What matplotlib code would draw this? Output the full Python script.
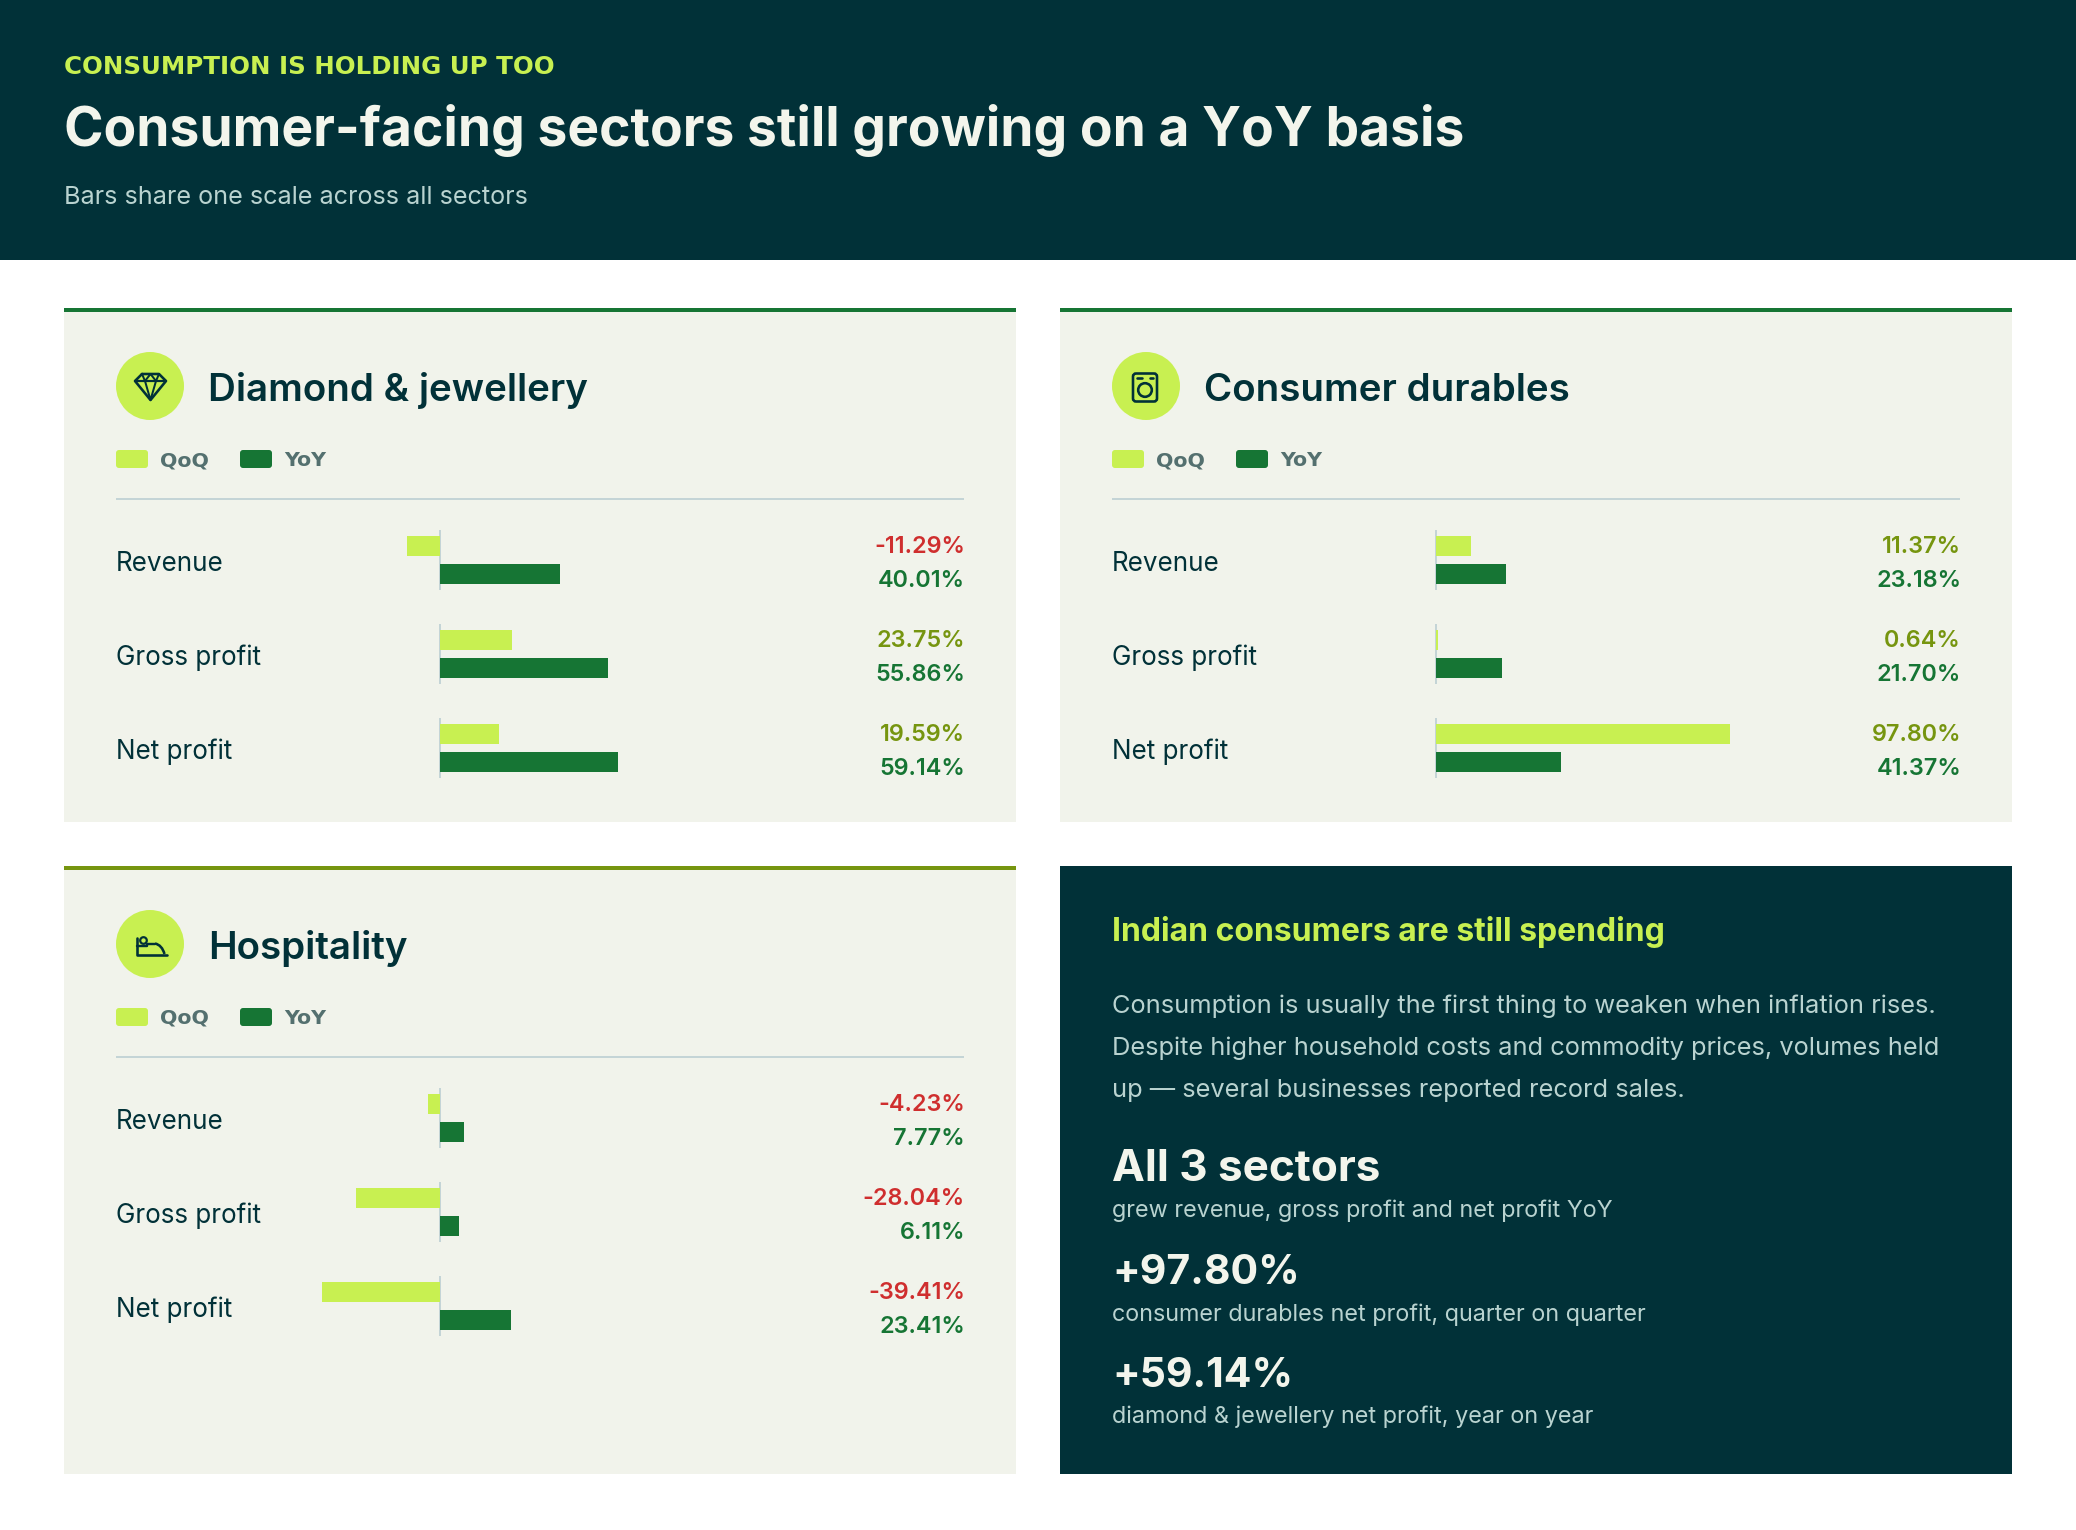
import matplotlib
matplotlib.use("Agg")
import matplotlib.pyplot as plt
from matplotlib.patches import Circle, FancyBboxPatch, Rectangle, PathPatch
from matplotlib.path import Path

W, H = 2076, 1530
plt.rcParams['font.family'] = ['Inter', 'Lato', 'DejaVu Sans']

# colours
INK = "#013138"
LIME = "#c8f051"
GREEN = "#167534"
OLIVE = "#76950f"
RED = "#cf2e2e"
CARD = "#f1f3eb"
RULE = "#c4d4d6"
PAPER = "#f3f5ec"
SOFT = "#b9d3d0"
MUTED = "#54706f"

# data
metrics = ["Revenue", "Gross profit", "Net profit"]
sectors = ["Diamond & jewellery", "Consumer durables", "Hospitality"]
diamond_qoq = [-11.29, 23.75, 19.59]
diamond_yoy = [40.01, 55.86, 59.14]
durables_qoq = [11.37, 0.64, 97.80]
durables_yoy = [23.18, 21.70, 41.37]
hospitality_qoq = [-4.23, -28.04, -39.41]
hospitality_yoy = [7.77, 6.11, 23.41]

kicker = "CONSUMPTION IS HOLDING UP TOO"
title = "Consumer-facing sectors still growing on a YoY basis"
subtitle = "Bars share one scale across all sectors"
panel_head = "Indian consumers are still spending"
panel_body = ["Consumption is usually the first thing to weaken when inflation rises.",
              "Despite higher household costs and commodity prices, volumes held",
              "up \u2014 several businesses reported record sales."]
stat_big = ["All 3 sectors", "+97.80%", "+59.14%"]
stat_small = ["grew revenue, gross profit and net profit YoY",
              "consumer durables net profit, quarter on quarter",
              "diamond & jewellery net profit, year on year"]

PX_PER_PCT = 3.0
ROW = 94.0


def fs(px):
    return px * 72 / 100


fig = plt.figure(figsize=(W / 100, H / 100), dpi=100, facecolor="white")
bg = fig.add_axes([0, 0, 1, 1])
bg.set_xlim(0, W)
bg.set_ylim(H, 0)
bg.axis('off')


def put(x, y, s, size, color, weight='normal', ha='left', **kw):
    bg.text(x, y, s, fontsize=fs(size), color=color, fontweight=weight, ha=ha, va='baseline', **kw)


def stroke(points, lw=2.6):
    xs, ys = zip(*points)
    bg.plot(xs, ys, color=INK, lw=fs(lw), solid_capstyle='round', solid_joinstyle='round', zorder=5)


def diamond_icon():
    stroke([(142, 374), (159, 374), (166, 381), (150.5, 400), (135, 381), (142, 374)])
    stroke([(135, 381), (166, 381)], 2.2)
    stroke([(142, 374), (145, 381), (150.5, 400), (156, 381), (159, 374)], 2)
    stroke([(145, 381), (150.5, 374), (156, 381)], 2)


def washer_icon():
    bg.add_patch(FancyBboxPatch((1133, 373.5), 24, 28, boxstyle="round,pad=0,rounding_size=3",
                                fc="none", ec=INK, lw=fs(2.6), zorder=5))
    stroke([(1137, 378), (1142, 378)])
    stroke([(1150, 378), (1153, 378)])
    bg.add_patch(Circle((1145, 390), 6.8, fc="none", ec=INK, lw=fs(2.6), zorder=5))


def bed_icon():
    stroke([(137, 938), (137, 955), (166.5, 955)])
    stroke([(137, 946), (147, 946), (147, 943.5), (155, 943.5)], 2.4)
    bg.add_patch(Circle((143.5, 940.5), 3.3, fc=LIME, ec=INK, lw=fs(2.2), zorder=6))
    verts = [(155, 943.5), (162, 945), (164.5, 954)]
    bg.add_patch(PathPatch(Path(verts, [Path.MOVETO, Path.CURVE3, Path.CURVE3]),
                           fc="none", ec=INK, lw=fs(2.6), zorder=5))


def draw_bars(left, top, qoq, yoy):
    # one axes per card, data units are percent, all cards on the same scale
    x0, x1 = left + 196, left + 776
    zero = left + 376.4
    y0, y1 = top + 222, top + 470
    ax = fig.add_axes([x0 / W, 1 - y1 / H, (x1 - x0) / W, (y1 - y0) / H])
    ax.patch.set_alpha(0)
    ax.axis('off')
    ax.set_xlim((x0 - zero) / PX_PER_PCT, (x1 - zero) / PX_PER_PCT)
    ax.set_ylim(2 + 30 / ROW, -30 / ROW)
    rows = range(len(metrics))
    ax.vlines([0] * 3, [r - 30 / ROW for r in rows], [r + 30 / ROW for r in rows],
              color=RULE, lw=fs(2), zorder=1)
    ax.barh([r - 14 / ROW for r in rows], qoq, height=20 / ROW, color=LIME, zorder=2)
    ax.barh([r + 14 / ROW for r in rows], yoy, height=20 / ROW, color=GREEN, zorder=2)


def card(left, top, bottom, name, qoq, yoy, accent):
    bg.add_patch(Rectangle((left, top), 952, bottom - top, fc=CARD, ec="none"))
    bg.add_patch(Rectangle((left, top), 952, 4, fc=accent, ec="none"))
    tx = left + 52
    bg.add_patch(Circle((tx + 34, top + 78), 34, fc=LIME, ec="none"))
    put(left + 144, top + 93, name, 38.5, INK, 600)

    # legend
    for dx, label, col in [(0, "QoQ", LIME), (124, "YoY", GREEN)]:
        bg.add_patch(FancyBboxPatch((tx + dx, top + 142), 32, 18,
                                    boxstyle="round,pad=0,rounding_size=3", fc=col, ec="none"))
        put(tx + dx + 44, top + 158, label, 20.5, MUTED, 'bold', family='DejaVu Sans')
    bg.plot([tx, left + 900], [top + 191, top + 191], color=RULE, lw=fs(2), solid_capstyle='butt')

    draw_bars(left, top, qoq, yoy)
    for i, m in enumerate(metrics):
        base = top + 222 + i * ROW
        put(tx, base + 41, m, 26, INK)
        put(left + 901, base + 23, f"{qoq[i]:.2f}%", 23.4, RED if qoq[i] < 0 else OLIVE, 600, ha='right')
        put(left + 901, base + 57, f"{yoy[i]:.2f}%", 23.4, RED if yoy[i] < 0 else GREEN, 600, ha='right')


# header
bg.add_patch(Rectangle((0, 0), W, 260, fc=INK, ec="none"))
put(64, 74, kicker, 24.5, LIME, 'bold', family='DejaVu Sans')
put(64, 146, title, 53.3, PAPER, 'bold')
put(64, 204, subtitle, 25.2, SOFT)

# cards
card(64, 308, 822, sectors[0], diamond_qoq, diamond_yoy, GREEN)
card(1060, 308, 822, sectors[1], durables_qoq, durables_yoy, GREEN)
card(64, 866, 1474, sectors[2], hospitality_qoq, hospitality_yoy, OLIVE)
diamond_icon()
washer_icon()
bed_icon()

# dark panel
bg.add_patch(Rectangle((1060, 866), 952, 608, fc=INK, ec="none"))
put(1112, 941, panel_head, 32, LIME, 'bold')
for line, y in zip(panel_body, [1013, 1055, 1097]):
    put(1112, y, line, 25.4, SOFT)
for big, small, size, yb, ys in zip(stat_big, stat_small, [44, 41, 41], [1181, 1284, 1387], [1217, 1321, 1423]):
    put(1112, yb, big, size, PAPER, 'bold')
    put(1112, ys, small, 23.4, SOFT)

fig.savefig("out.png", dpi=100)
